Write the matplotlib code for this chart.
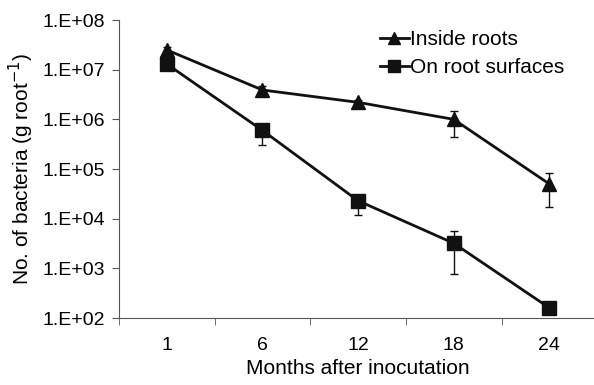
import numpy as np
import matplotlib.pyplot as plt
from matplotlib.lines import Line2D

plt.rcParams['font.family'] = ['Liberation Sans', 'DejaVu Sans']
plt.rcParams['font.size'] = 14

months = ['1', '6', '12', '18', '24']
inside = [2.5e7, 3.9e6, 2.2e6, 1.0e6, 5.0e4]
inside_lo = [2.2e7, 3.3e6, 1.9e6, 4.5e5, 1.7e4]
inside_hi = [2.8e7, 4.6e6, 2.5e6, 1.5e6, 8.3e4]
surface = [1.3e7, 6.0e5, 2.3e4, 3.2e3, 1.6e2]
surface_lo = [1.1e7, 3.0e5, 1.2e4, 7.8e2, 1.4e2]
surface_hi = [1.5e7, 7.0e5, 2.7e4, 5.6e3, 1.8e2]

x = np.arange(len(months))
fig = plt.figure(figsize=(5.94, 3.85), dpi=100)
ax = fig.add_axes([0.2003, 0.174, 0.805, 0.774])

def err(v, lo, hi):
    v = np.array(v)
    return [v - np.array(lo), np.array(hi) - v]

col = '#111111'
ax.errorbar(x, inside, yerr=err(inside, inside_lo, inside_hi), color=col,
            marker='^', markersize=10, linewidth=2, capsize=3, elinewidth=1)
ax.errorbar(x, surface, yerr=err(surface, surface_lo, surface_hi), color=col,
            marker='s', markersize=10, linewidth=2, capsize=3, elinewidth=1)

ax.set_yscale('log')
ax.set_ylim(1e2, 1e8)
ax.set_yticks([10.0 ** k for k in range(2, 9)])
ax.set_yticklabels(['1.E+%02d' % k for k in range(2, 9)])
ax.minorticks_off()
ax.set_xlim(-0.5, 4.5)
ax.set_xticks(x)
ax.set_xticklabels(months)
ax.tick_params(axis='x', length=0, pad=14)
ax.set_xticks(np.arange(-0.5, 5.0, 1.0), minor=True)
ax.tick_params(axis='x', which='minor', length=5, color='#555555', direction='out')
ax.tick_params(axis='y', length=5, color='#555555', direction='out', pad=5)
for s in ['top', 'right']:
    ax.spines[s].set_visible(False)
for s in ['left', 'bottom']:
    ax.spines[s].set_color('#555555')
ax.set_xlabel('Months after inocutation', fontsize=15, labelpad=3)
ax.set_ylabel('No. of bacteria (g root$^{-1}$)', fontsize=15, labelpad=5)

handles = [Line2D([], [], color=col, marker='^', markersize=8, linewidth=2),
           Line2D([], [], color=col, marker='s', markersize=8, linewidth=2)]
ax.legend(handles, ['Inside roots', 'On root surfaces'], loc='upper right',
          bbox_to_anchor=(0.97, 1.03), frameon=False, handlelength=1.4,
          handletextpad=0.05, labelspacing=0.45, fontsize=15)

fig.savefig('out.png', dpi=100)
